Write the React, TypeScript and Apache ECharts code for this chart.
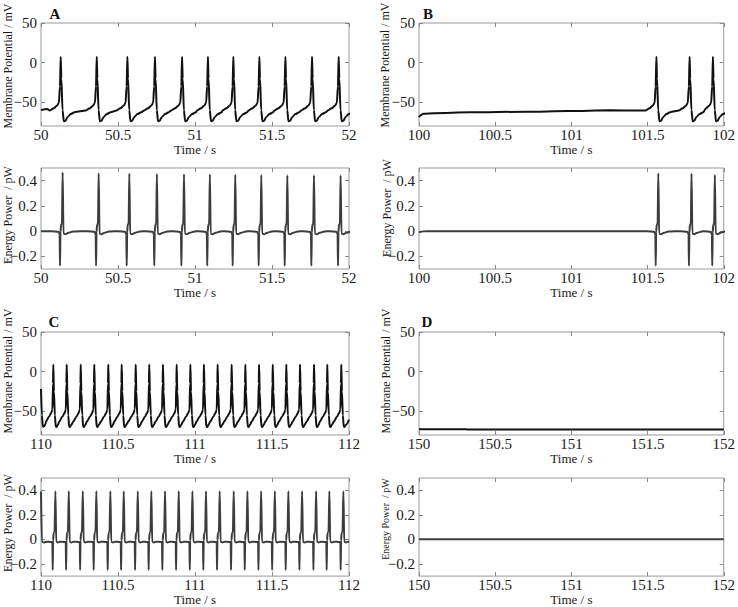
import React, { useEffect, useRef } from "react";
import * as echarts from "echarts";

// ---------- axis ranges & ticks ----------
const xRangeA = [50, 52];
const xRangeB = [100, 102];
const xRangeC = [110, 112];
const xRangeD = [150, 152];
const potentialRange = [-80, 50];
const potentialTicks = [-50, 0, 50];
const powerRange = [-0.3, 0.5];
const powerTicks = [-0.2, 0, 0.2, 0.4];

// ---------- panel A ----------
const spikeTimesA = [50.128, 50.362, 50.561, 50.74, 50.916, 51.084, 51.249, 51.418, 51.587, 51.76, 51.933];
// membrane potential shape around a spike peak: [offset s, mV]
const potentialShapeA = [
  [-0.07, -60.5], [-0.045, -57.5], [-0.025, -54.5], [-0.012, -51], [-0.005, -30], [0, 7.5],
  [0.004, -20], [0.012, -60], [0.02, -74], [0.03, -73.5], [0.045, -68.5], [0.065, -65], [0.09, -62.5],
];
const potentialStartA = [[50, -60], [50.04, -58.5]];
const potentialEndA = [[52, -63]];
const powerShapeA = [
  [-0.06, 0], [-0.012, -0.006], [-0.007, -0.03], [-0.0045, -0.275], [-0.0015, -0.01], [0.002, 0.05],
  [0.008, 0.06], [0.0125, 0.45], [0.018, -0.02], [0.03, -0.025], [0.05, -0.012], [0.08, -0.003],
];
const powerPeaksA = [0.465, 0.458, 0.455, 0.452, 0.45, 0.448, 0.446, 0.444, 0.442, 0.442, 0.44];
const powerStartA = [[50, 0]];
const powerEndA = [[52, 0]];

// ---------- panel B ----------
const spikeTimesB = [101.558, 101.776, 101.929];
const potentialStartB = [
  [100, -69], [100.01, -66.5], [100.03, -64.5], [100.1, -63.8], [100.33, -62.8], [100.7, -62], [100.98, -61.2], [101.25, -60.2],
];
const potentialEndB = [[102, -64]];
const powerPeaksB = [0.457, 0.455, 0.445];
const powerStartB = [[100, -0.012], [100.01, -0.004], [100.05, 0], [101.45, 0]];
const powerEndB = [[102, -0.01]];

// ---------- panel C ----------
const spikeTimesC = [
  110.08, 110.167, 110.258, 110.346, 110.437, 110.524, 110.615, 110.703, 110.792, 110.881, 110.97,
  111.058, 111.147, 111.238, 111.327, 111.416, 111.505, 111.593, 111.682, 111.773, 111.859, 111.95,
];
const potentialShapeC = [
  [-0.048, -63], [-0.028, -57], [-0.015, -52.5], [-0.006, -48], [-0.002, -15], [0, 9],
  [0.004, -25], [0.01, -55], [0.016, -69.5], [0.021, -70], [0.03, -67],
];
const potentialStartC = [[110, -22], [110.006, -55], [110.012, -69.5], [110.02, -69], [110.03, -66]];
const potentialEndC = [[112, -60.5]];
const powerShapeC = [
  [-0.03, -0.02], [-0.008, -0.022], [-0.006, -0.035], [-0.004, -0.25], [-0.0015, -0.01], [0.002, 0.05],
  [0.008, 0.06], [0.0135, 0.39], [0.019, -0.02], [0.03, -0.025], [0.045, -0.02],
];
const powerPeaksC = [
  0.392, 0.392, 0.392, 0.392, 0.392, 0.392, 0.392, 0.392, 0.392, 0.392, 0.392,
  0.392, 0.392, 0.392, 0.392, 0.392, 0.392, 0.392, 0.392, 0.392, 0.392, 0.392,
];
const powerStartC = [[110, 0.39], [110.006, -0.02], [110.02, -0.025], [110.04, -0.02]];
const powerEndC = [[112, -0.02]];

// ---------- panel D ----------
const potentialD = [[150, -72.6], [150.31, -72.6], [150.32, -73.2], [152, -73.2]];
const powerD = [[150, 0], [152, 0]];

const FONT = "Liberation Serif";

function buildTrace(
  start: number[][],
  spikes: number[],
  shape: number[][],
  end: number[][],
  peaks?: number[],
  peakOffset?: number
) {
  const out: number[][] = [];
  const push = (t: number, v: number) => {
    if (out.length && t <= out[out.length - 1][0]) return;
    out.push([Math.round(t * 10000) / 10000, v]);
  };
  start.forEach((p) => push(p[0], p[1]));
  spikes.forEach((ts, i) =>
    shape.forEach(([o, v]) => push(ts + o, peaks && o === peakOffset ? peaks[i] : v))
  );
  end.forEach((p) => push(p[0], p[1]));
  return out;
}

const potentialA = buildTrace(potentialStartA, spikeTimesA, potentialShapeA, potentialEndA);
const powerA = buildTrace(powerStartA, spikeTimesA, powerShapeA, powerEndA, powerPeaksA, 0.0125);
const potentialB = buildTrace(potentialStartB, spikeTimesB, potentialShapeA, potentialEndB);
const powerB = buildTrace(powerStartB, spikeTimesB, powerShapeA, powerEndB, powerPeaksB, 0.0125);
const potentialC = buildTrace(potentialStartC, spikeTimesC, potentialShapeC, potentialEndC);
const powerC = buildTrace(powerStartC, spikeTimesC, powerShapeC, powerEndC, powerPeaksC, 0.0135);

type Panel = {
  left: number;
  top: number;
  height: number;
  x: number[];
  kind: "potential" | "power";
  data: number[][];
};

const W = 308;
const panels: Panel[] = [
  { left: 41, top: 23, height: 103, x: xRangeA, kind: "potential", data: potentialA },
  { left: 41, top: 168, height: 101, x: xRangeA, kind: "power", data: powerA },
  { left: 419, top: 23, height: 103, x: xRangeB, kind: "potential", data: potentialB },
  { left: 419, top: 168, height: 101, x: xRangeB, kind: "power", data: powerB },
  { left: 41, top: 332, height: 103, x: xRangeC, kind: "potential", data: potentialC },
  { left: 41, top: 478, height: 101, x: xRangeC, kind: "power", data: powerC },
  { left: 419, top: 332, height: 103, x: xRangeD, kind: "potential", data: potentialD },
  { left: 419, top: 478, height: 101, x: xRangeD, kind: "power", data: powerD },
];

const yLabels = [
  { x: 8, y: 66, size: 12, text: "Membrane Potential / mV" },
  { x: 8, y: 215, size: 12, text: "Energy Power  / pW" },
  { x: 385, y: 65, size: 12, text: "Membrane Potential / mV" },
  { x: 387, y: 208, size: 12, text: "Energy Power  / pW" },
  { x: 8, y: 371, size: 12, text: "Membrane Potential / mV" },
  { x: 8, y: 523, size: 12, text: "Energy Power  / pW" },
  { x: 386, y: 371, size: 12, text: "Membrane Potential / mV" },
  { x: 385, y: 519, size: 10, text: "Energy Power  / pW" },
];

const letters = [
  { x: 55, y: 14, text: "A" },
  { x: 428, y: 14, text: "B" },
  { x: 54, y: 322, text: "C" },
  { x: 427, y: 322, text: "D" },
];

const fmt = (v: number) => String(v).replace("-", "\u2212");

export default function App() {
  const ref = useRef<HTMLDivElement>(null);
  useEffect(() => {
    if (!ref.current) return;
    const chart = echarts.init(ref.current, undefined, { renderer: "svg" });
    const grid: any[] = [];
    const xAxis: any[] = [];
    const yAxis: any[] = [];
    const series: any[] = [];
    const tickStyle = { inside: true, length: 4, lineStyle: { color: "#888", width: 1 } };
    const noLine = { show: false, onZero: false };
    panels.forEach((p, i) => {
      grid.push({
        left: p.left,
        top: p.top,
        width: W,
        height: p.height,
        show: true,
        borderColor: "#9a9a9a",
        borderWidth: 1,
        backgroundColor: "transparent",
      });
      const isPot = p.kind === "potential";
      const yr = isPot ? potentialRange : powerRange;
      const yt = isPot ? potentialTicks : powerTicks;
      xAxis.push({
        type: "value",
        gridIndex: i,
        position: "bottom",
        min: p.x[0],
        max: p.x[1],
        interval: 0.5,
        axisLine: noLine,
        axisTick: tickStyle,
        splitLine: { show: false },
        axisLabel: { color: "#1a1a1a", fontFamily: FONT, fontSize: 15, margin: 1 },
        name: "Time / s",
        nameLocation: "middle",
        nameGap: 13,
        nameTextStyle: { color: "#1a1a1a", fontFamily: FONT, fontSize: 13 },
      });
      xAxis.push({
        type: "value",
        gridIndex: i,
        position: "top",
        min: p.x[0],
        max: p.x[1],
        interval: 0.5,
        axisLine: noLine,
        axisTick: tickStyle,
        splitLine: { show: false },
        axisLabel: { show: false },
      });
      yAxis.push({
        type: "value",
        gridIndex: i,
        position: "left",
        min: yr[0],
        max: yr[1],
        axisLine: noLine,
        axisTick: { ...tickStyle, customValues: yt },
        splitLine: { show: false },
        axisLabel: {
          color: "#1a1a1a",
          fontFamily: FONT,
          fontSize: 15,
          margin: 4,
          customValues: yt,
          formatter: fmt,
        },
      });
      yAxis.push({
        type: "value",
        gridIndex: i,
        position: "right",
        min: yr[0],
        max: yr[1],
        axisLine: noLine,
        axisTick: { ...tickStyle, customValues: yt },
        splitLine: { show: false },
        axisLabel: { show: false },
      });
      series.push({
        type: "line",
        xAxisIndex: 2 * i,
        yAxisIndex: 2 * i,
        data: p.data,
        showSymbol: false,
        symbol: "none",
        smooth: 0.3,
        smoothMonotone: "x",
        clip: true,
        lineStyle: { color: isPot ? "#111" : "#3c3c3c", width: 2 },
        silent: true,
      });
    });
    const graphic: any[] = [];
    yLabels.forEach((l) =>
      graphic.push({
        type: "text",
        x: l.x,
        y: l.y,
        rotation: Math.PI / 2,
        style: {
          text: l.text,
          fill: "#1a1a1a",
          font: `${l.size}px "${FONT}"`,
          textAlign: "center",
          textVerticalAlign: "middle",
        },
      })
    );
    letters.forEach((l) =>
      graphic.push({
        type: "text",
        x: l.x,
        y: l.y,
        style: {
          text: l.text,
          fill: "#111",
          font: `bold 15px "${FONT}"`,
          textAlign: "center",
          textVerticalAlign: "middle",
        },
      })
    );
    chart.setOption({
      animation: false,
      backgroundColor: "#fff",
      textStyle: { fontFamily: FONT },
      grid,
      xAxis,
      yAxis,
      series,
      graphic,
    });
    return () => chart.dispose();
  }, []);
  return (
    <div
      ref={ref}
      style={{ position: "fixed", left: 0, top: 0, width: 738, height: 607, background: "#fff" }}
    />
  );
}
